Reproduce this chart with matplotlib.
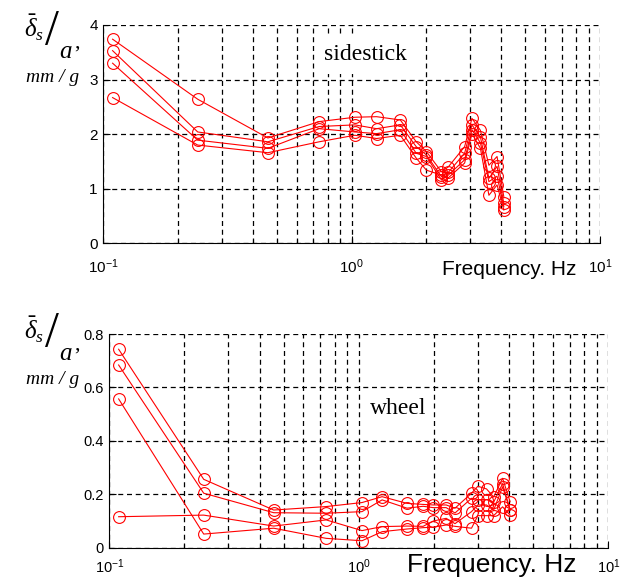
import matplotlib
matplotlib.use("Agg")
import matplotlib.pyplot as plt
from matplotlib.ticker import LogLocator, NullFormatter

plt.rcParams['font.family'] = ['Liberation Sans', 'DejaVu Sans']
plt.rcParams['mathtext.fontset'] = 'custom'
plt.rcParams['mathtext.rm'] = 'Liberation Sans'
plt.rcParams['mathtext.it'] = 'Liberation Serif:italic'

# sidestick (top plot) - frequency, Hz
freq_side = [0.109, 0.24, 0.46, 0.74, 1.03, 1.26, 1.57, 1.82, 2.0, 2.3, 2.45,
             2.85, 3.05, 3.3, 3.57, 3.85, 4.1]
side_1 = [3.74, 2.64, 1.93, 2.23, 2.31, 2.32, 2.26, 1.86, 1.68, 1.31, 1.40,
          1.77, 2.29, 2.07, 1.43, 1.59, 0.85]
side_2 = [3.53, 2.04, 1.86, 2.14, 2.17, 2.10, 2.17, 1.77, 1.62, 1.22, 1.30,
          1.65, 2.17, 1.95, 1.19, 1.41, 0.73]
side_3 = [3.30, 1.89, 1.74, 2.10, 2.04, 2.01, 2.08, 1.65, 1.59, 1.16, 1.25,
          1.53, 2.08, 1.84, 1.13, 1.23, 0.67]
side_4 = [2.67, 1.80, 1.66, 1.86, 1.98, 1.92, 1.98, 1.56, 1.34, 1.25, 1.20,
          1.47, 2.01, 1.74, 0.88, 1.07, 0.61]

# wheel (bottom plot)
freq_wheel = [0.109, 0.239, 0.456, 0.74, 1.03, 1.24, 1.56, 1.81, 1.99, 2.24,
              2.43, 2.83, 3.0, 3.25, 3.47, 3.77, 4.04]
wheel_1 = [0.743, 0.256, 0.141, 0.154, 0.169, 0.191, 0.166, 0.162, 0.160, 0.160,
           0.148, 0.204, 0.230, 0.220, 0.190, 0.260, 0.172]
wheel_2 = [0.684, 0.204, 0.131, 0.129, 0.135, 0.179, 0.148, 0.155, 0.150, 0.150,
           0.130, 0.185, 0.180, 0.180, 0.170, 0.240, 0.141]
wheel_3 = [0.557, 0.051, 0.073, 0.035, 0.026, 0.060, 0.070, 0.075, 0.077, 0.085,
           0.080, 0.073, 0.120, 0.120, 0.120, 0.153, 0.122]
wheel_4 = [0.116, 0.122, 0.081, 0.104, 0.064, 0.079, 0.081, 0.080, 0.100, 0.110,
           0.090, 0.135, 0.160, 0.160, 0.140, 0.228, 0.141]

side_ticks = [0, 1, 2, 3, 4]
wheel_ticks = [0, 0.2, 0.4, 0.6, 0.8]
wheel_ticklabels = ['0', '0.2', '0.4', '0.6', '0.8']

W, H = 626, 580
fig = plt.figure(figsize=(6.26, 5.80), dpi=100)
ax1 = fig.add_axes([103.3 / W, 1 - 243.3 / H, 496.7 / W, 218.3 / H])
ax2 = fig.add_axes([109.3 / W, 1 - 547.7 / H, 499.0 / W, 213.7 / H])


def style_axes(ax, ylim, yticks, yticklabels, fs, xpad):
    ax.set_xscale('log')
    ax.set_xlim(0.1, 10)
    ax.set_ylim(*ylim)
    ax.set_yticks(yticks)
    ax.set_yticklabels(yticklabels)
    ax.xaxis.set_major_locator(LogLocator(base=10))
    ax.xaxis.set_minor_locator(LogLocator(base=10, subs=range(2, 10)))
    ax.xaxis.set_minor_formatter(NullFormatter())
    ax.spines['top'].set_visible(False)
    ax.spines['right'].set_visible(False)
    ax.tick_params(direction='in', length=5, width=0.8, labelsize=fs, pad=4)
    ax.tick_params(axis='x', pad=xpad)
    ax.tick_params(which='minor', direction='in', length=3, width=0.8)
    grid_kw = dict(color='black', linestyle=(0, (4, 3)), linewidth=0.9)
    ax.grid(True, which='major', **grid_kw)
    ax.grid(True, which='minor', axis='x', **grid_kw)
    ax.set_axisbelow(True)


line_kw = dict(color='#ff0000', linewidth=0.8, marker='o', markersize=8.5,
               markerfacecolor='none', markeredgecolor='#ff0000',
               markeredgewidth=0.8)

for s in [side_1, side_2, side_3, side_4]:
    ax1.plot(freq_side, s, **line_kw)
for s in [wheel_1, wheel_2, wheel_3, wheel_4]:
    ax2.plot(freq_wheel, s, **line_kw)

style_axes(ax1, (0, 4), side_ticks, [str(t) for t in side_ticks], 11, 10)
style_axes(ax2, (0, 0.8), wheel_ticks, wheel_ticklabels, 10.5, 7)

# in-plot labels
fig.text(365 / W, 1 - 55 / H, 'sidestick', family='Liberation Serif',
         fontsize=17, ha='center', va='center',
         bbox=dict(facecolor='white', edgecolor='none', pad=6))
fig.text(398 / W, 1 - 408 / H, 'wheel', family='Liberation Serif',
         fontsize=17, ha='center', va='center',
         bbox=dict(facecolor='white', edgecolor='none', pad=4))

fig.text(509 / W, 1 - 270 / H, 'Frequency. Hz', fontsize=15,
         ha='center', va='center')
fig.text(492 / W, 1 - 565 / H, 'Frequency. Hz', fontsize=19,
         ha='center', va='center')

# y axis label: delta_s / a , mm/g
for y0 in [28, 330]:
    fig.text(24 / W, 1 - y0 / H, r'$\bar{\delta}_s$', fontsize=18,
             ha='left', va='center')
    fig.text(52 / W, 1 - (y0 + 4) / H, '/', family='Liberation Serif',
             fontsize=36, ha='center', va='center')
    fig.text(59 / W, 1 - (y0 + 23) / H, r'$a$', fontsize=18,
             ha='left', va='center')
    fig.text(74 / W, 1 - (y0 + 15) / H, ',', family='Liberation Serif',
             fontsize=16, ha='left', va='center')
    fig.text(26 / W, 1 - (y0 + 49) / H, 'mm / g', family='Liberation Serif',
             style='italic', fontsize=14, ha='left', va='center')

fig.savefig('out.png', dpi=100)
